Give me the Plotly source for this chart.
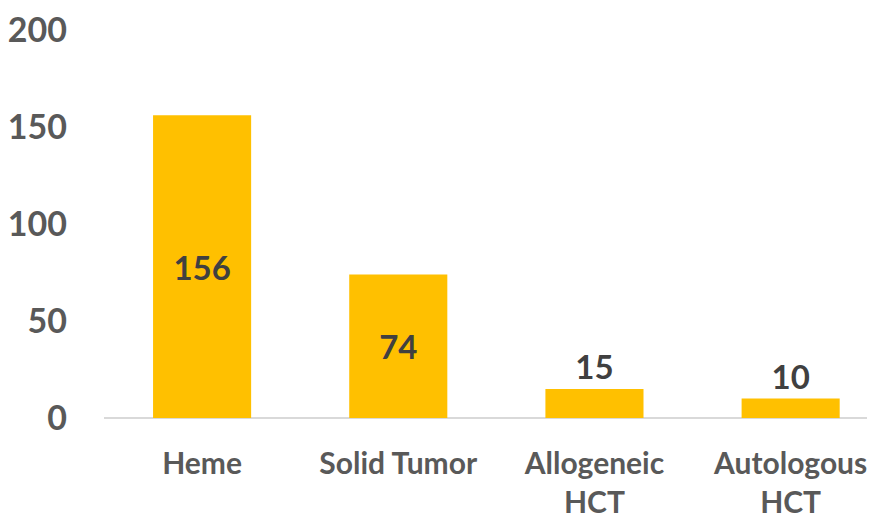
import plotly.graph_objects as go

categories = ["Heme", "Solid Tumor", "Allogeneic<br>HCT", "Autologous<br>HCT"]
values = [156, 74, 15, 10]
label_positions = ["inside", "inside", "outside", "outside"]
y_ticks = [0, 50, 100, 150, 200]

fig = go.Figure(go.Bar(
    x=categories,
    y=values,
    width=0.5,
    marker=dict(color="#FFC000", line=dict(width=0)),
    text=[str(v) for v in values],
    textposition=label_positions,
    insidetextanchor="middle",
    textfont=dict(family="Lato", size=33, color="#404040", weight="bold"),
    cliponaxis=False,
    constraintext="none",
))

fig.update_layout(
    width=875, height=521,
    margin=dict(l=96, r=8, t=22, b=111),
    plot_bgcolor="white", paper_bgcolor="white",
    showlegend=False,
    bargap=0.5,
    font=dict(family="Lato", color="#595959"),
)
fig.update_xaxes(
    range=[-0.5, 3.43],
    automargin=False,
    showgrid=False, showline=False, zeroline=False,
    tickfont=dict(family="Lato", size=30, color="#595959", weight="bold"),
    ticklabelstandoff=25,
    ticklabeloverflow="allow",
)
fig.update_yaxes(
    range=[0, 200],
    automargin=False,
    tickvals=y_ticks,
    showgrid=False, showline=False,
    zeroline=True, zerolinecolor="#D9D9D9", zerolinewidth=1.5,
    tickfont=dict(family="Lato", size=34, color="#595959", weight="bold"),
    ticklabelstandoff=36,
    ticklabeloverflow="allow",
)

fig.write_html("out.html")
